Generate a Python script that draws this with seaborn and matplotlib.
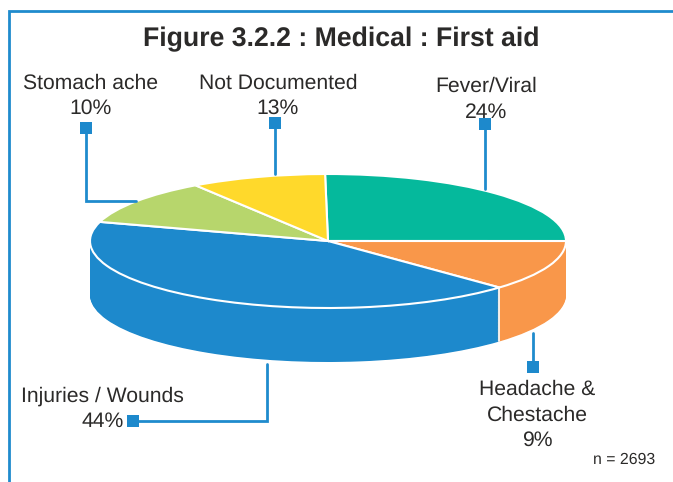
import numpy as np
import matplotlib
matplotlib.use('Agg')
import matplotlib.pyplot as plt
import seaborn as sns

# printed labels and percentages
names = ['Fever/Viral', 'Headache &\nChestache', 'Injuries / Wounds', 'Stomach ache', 'Not Documented']
printed_pct = [24, 9, 44, 10, 13]
# slice sizes as they are drawn in the picture (they differ from the printed numbers)
drawn_share = [25.2, 12.2, 42.4, 11.0, 9.2]
n_text = 'n = 2693'
title = 'Figure 3.2.2 : Medical : First aid'

hex_colors = ['#05B99C', '#F9974A', '#1D89CC', '#B7D66C', '#FFD92B']
line_blue = '#1F8BCD'
text_col = '#2B2A29'

sns.set_theme(style='white')
plt.rcParams['font.family'] = ['Liberation Sans', 'DejaVu Sans']
plt.rcParams['text.hinting'] = 'no_hinting'
palette = sns.color_palette(hex_colors)

W, H = 673, 482
cx, cy = 328, 241     # pie centre, pixels
rx, ry = 238, 67      # ellipse radii, pixels
depth = 54 / ry       # height of the pie side

fig = plt.figure(figsize=(W / 100, H / 100), dpi=100, facecolor='white')

# the pie lives in squashed axes, so a round pie comes out as an ellipse
ax = fig.add_axes([0, 0, 1, 1])
start = 90.7
for off in np.linspace(-depth, -0.01, 70):
    ax.pie(drawn_share, colors=palette, startangle=start, counterclock=False,
           center=(0, off), frame=True, wedgeprops={'linewidth': 0})
ax.pie(drawn_share, colors=palette, startangle=start, counterclock=False,
       center=(0, 0), frame=True, wedgeprops={'edgecolor': 'white', 'linewidth': 1.5})
ax.set_aspect('auto')
ax.set_xlim(-cx / rx, (W - cx) / rx)
ax.set_ylim(-(H - cy) / ry, cy / ry)
ax.axis('off')

# white seam on the side between headache and injuries
seam = np.radians(start - 3.6 * sum(drawn_share[:2]))
ax.plot([np.cos(seam)] * 2, [np.sin(seam), np.sin(seam) - depth], color='white', lw=1.2)

# overlay in pixel coordinates for frame, leaders and text
ov = fig.add_axes([0, 0, 1, 1])
ov.set_xlim(0, W)
ov.set_ylim(H, 0)
ov.axis('off')
ov.patch.set_alpha(0)

ov.plot([8.5, 8.5, W], [H, 11, 11], color=line_blue, lw=2.0, solid_joinstyle='miter')

leaders = [
    ([485, 485], [124, 189]),
    ([532.5, 532.5], [367, 333]),
    ([133, 266.5, 266.5], [421, 421, 364]),
    ([85.5, 85.5, 136], [128, 200.5, 200.5]),
    ([274.5, 274.5], [122.5, 174]),
]
for xs, ys in leaders:
    ov.plot(xs, ys, color=line_blue, lw=2.0, solid_joinstyle='miter')
    ov.plot(xs[0], ys[0], marker='s', ms=8, color='#1D89CC', mew=0)

label_xy = [(486.5, 99), (537, 415), (102.5, 409), (90.5, 96), (278, 96)]
line_gap = [1.42, 1.38, 1.33, 1.33, 1.33]
for name, pct, (x, y), gap in zip(names, printed_pct, label_xy, line_gap):
    ov.text(x, y, f'{name}\n{pct}%', ha='center', va='center', fontsize=15.2,
            color=text_col, linespacing=gap)

ov.text(341, 39, title, ha='center', va='center', fontsize=19.2, fontweight='bold', color=text_col)
ov.text(655, 460, n_text, ha='right', va='center', fontsize=11.4, color=text_col)

fig.savefig('out.png', dpi=100)
